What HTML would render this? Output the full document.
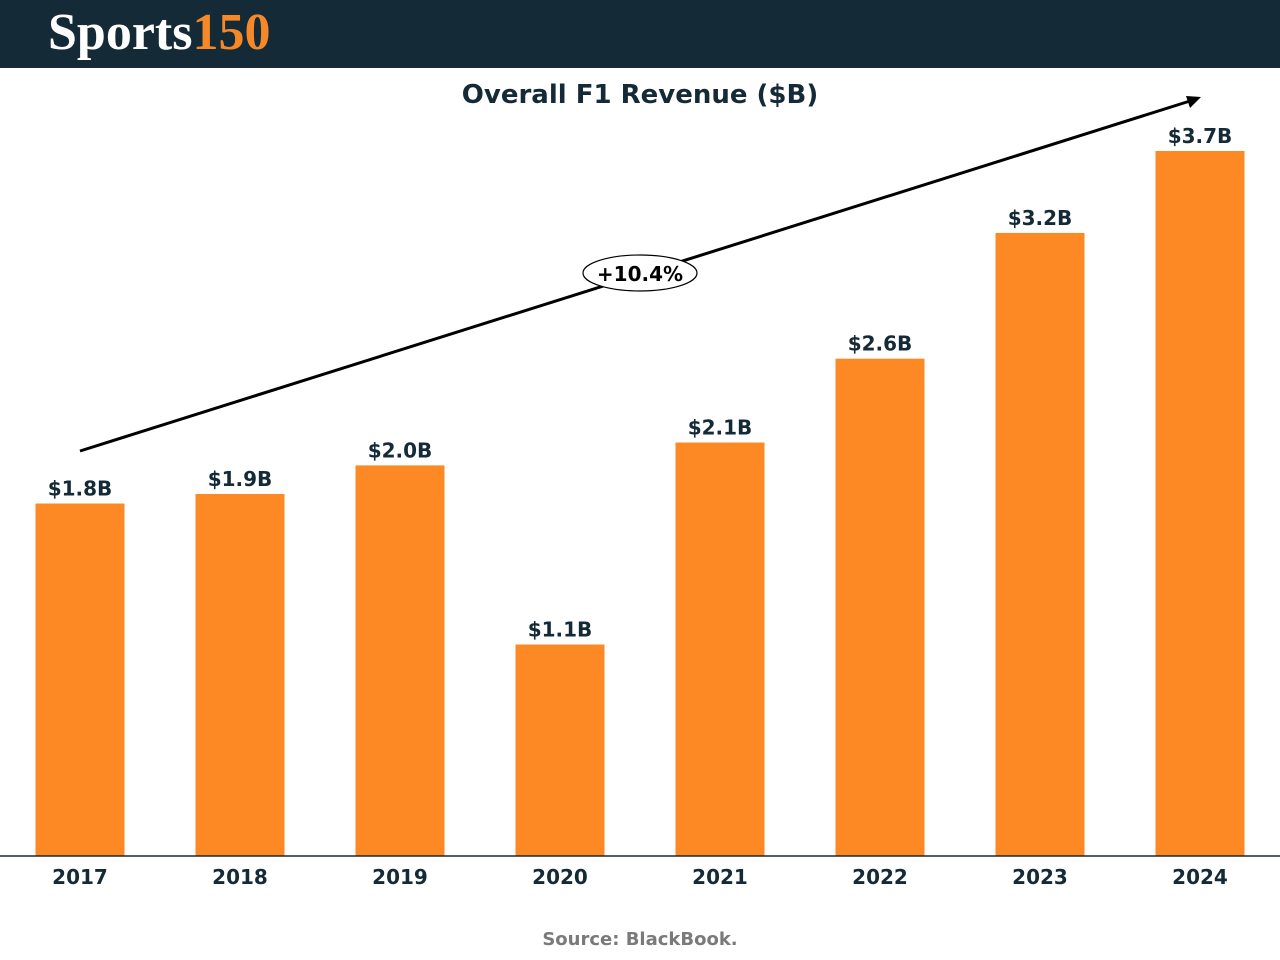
<!DOCTYPE html>
<html><head><meta charset="utf-8"><style>
body{margin:0;width:1280px;height:960px;background:#fff;font-family:"DejaVu Sans","Liberation Sans",sans-serif;overflow:hidden}
.hdr{position:absolute;left:0;top:0;width:1280px;height:68px;background:#142a37}
.logo{position:absolute;left:48px;top:3px;font-family:"Liberation Serif",serif;font-weight:bold;font-size:52px;color:#fff;letter-spacing:0px}
.logo span{color:#f5892a}
</style></head><body>
<div class="hdr"><div class="logo">Sports<span>150</span></div></div>
<svg id="c" width="1280" height="960" style="position:absolute;left:0;top:0">
<text x="640" y="103" text-anchor="middle" font-size="26" font-weight="bold" fill="#142a37">Overall F1 Revenue ($B)</text>
<text x="640" y="945" text-anchor="middle" font-size="18" font-weight="bold" fill="#7a7a7a">Source: BlackBook.</text>
</svg>
<script>
const years=["2017","2018","2019","2020","2021","2022","2023","2024"];
const revenue=[1.85,1.90,2.05,1.11,2.17,2.61,3.27,3.70];
const labels=["$1.8B","$1.9B","$2.0B","$1.1B","$2.1B","$2.6B","$3.2B","$3.7B"];
const cagr="+10.4%";
const svg=document.getElementById('c');const NS='http://www.w3.org/2000/svg';
const base=856,scale=705/3.7;
const x=i=>80+i*160;const y=v=>base-v*scale;
function mk(t,a){const e=document.createElementNS(NS,t);for(const k in a)e.setAttribute(k,a[k]);svg.appendChild(e);return e;}
years.forEach((yr,i)=>{
 const b=mk('rect',{x:x(i)-44.5,y:y(revenue[i]),width:89,height:base-y(revenue[i]),fill:'#fd8925'});
 
 
 const l=mk('text',{x:x(i),y:y(revenue[i])-8,'text-anchor':'middle','font-size':20,'font-weight':'bold',fill:'#142a37'});l.textContent=labels[i];
 
 
 const t=mk('text',{x:x(i),y:884,'text-anchor':'middle','font-size':20,'font-weight':'bold',fill:'#142a37'});t.textContent=yr;
 
 
});
const ax=mk('line',{x1:0,y1:base,x2:1280,y2:base,stroke:'#142a37','stroke-width':1.5});


const ln=mk('line',{x1:80,y1:451,x2:1190,y2:101,stroke:'#000','stroke-width':3});


const hd=mk('polygon',{points:'1201,97 1186,96 1190,108',fill:'#000'});


const el=mk('ellipse',{cx:640,cy:273,rx:57,ry:18,fill:'#fff',stroke:'#000','stroke-width':1.2});


const ct=mk('text',{x:640,y:281,'text-anchor':'middle','font-size':20,'font-weight':'bold',fill:'#000'});ct.textContent=cagr;


</script>
</body></html>
